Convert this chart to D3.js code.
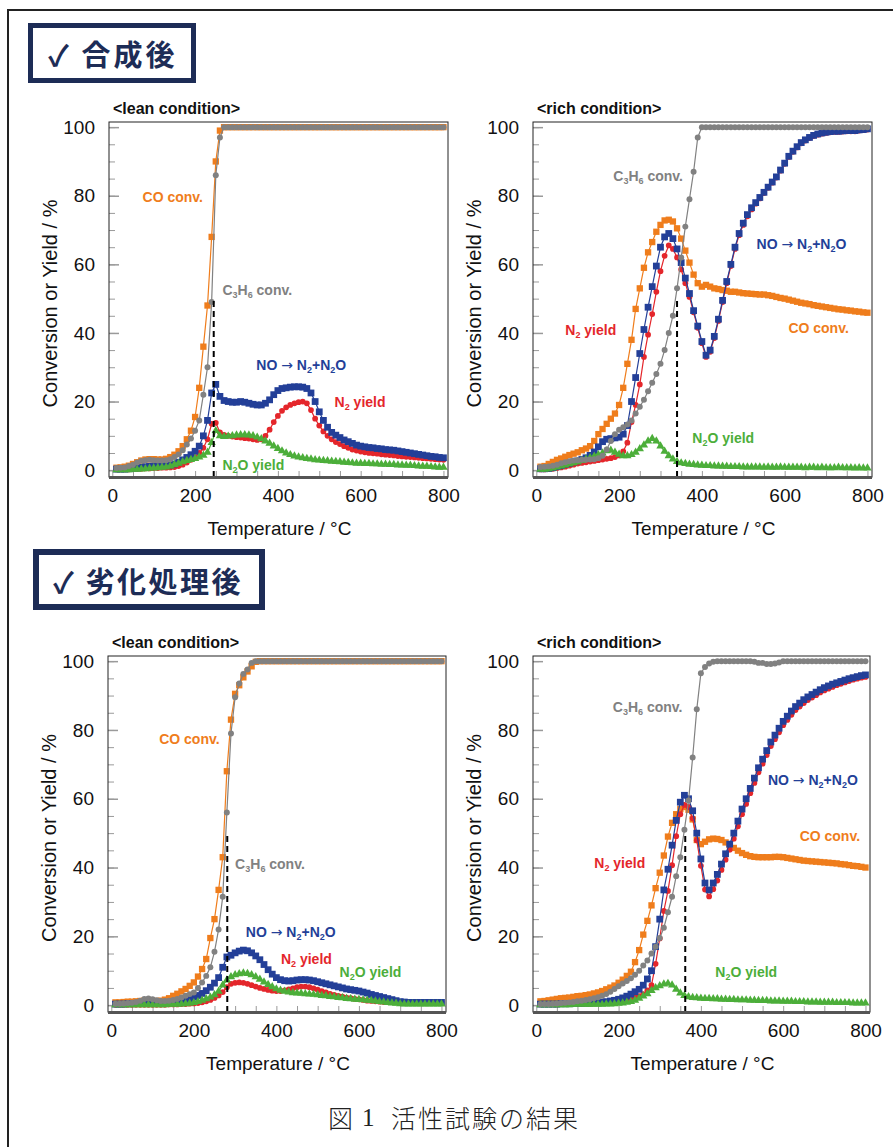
<!DOCTYPE html>
<html lang="ja">
<head>
<meta charset="UTF-8" />
<title>活性試験の結果</title>
<script src="https://d3js.org/d3.v7.min.js"></script>
<style>
  body { margin: 0; background: #fff; }
  svg { display: block; font-family: "Liberation Sans", Arial, sans-serif; }
</style>
</head>
<body>
<svg id="fig" width="893" height="1147"></svg>
<script>
// temperature of every sample (°C)
const temps = [
  10, 20, 30, 40, 50, 60, 70, 80, 90, 100,
  110, 120, 130, 140, 150, 160, 170, 180, 190, 200,
  210, 220, 230, 240, 250, 260, 270, 280, 290, 300,
  310, 320, 330, 340, 350, 360, 370, 380, 390, 400,
  410, 420, 430, 440, 450, 460, 470, 480, 490, 500,
  510, 520, 530, 540, 550, 560, 570, 580, 590, 600,
  610, 620, 630, 640, 650, 660, 670, 680, 690, 700,
  710, 720, 730, 740, 750, 760, 770, 780, 790, 800
];

const xTicks = [0, 200, 400, 600, 800];
const xMinorTicks = [0, 50, 100, 150, 200, 250, 300, 350, 400, 450, 500, 550, 600, 650, 700, 750, 800];
const yTicks = [0, 20, 40, 60, 80, 100];
const yMinorTicks = [0, 5, 10, 15, 20, 25, 30, 35, 40, 45, 50, 55, 60, 65, 70, 75, 80, 85, 90, 95, 100];

// 合成後 / lean
const freshLeanCO = [
  0.7, 0.8, 1.0, 1.3, 1.8, 2.3, 2.8, 3.1, 3.2, 3.2,
  3.1, 3.1, 3.3, 3.8, 4.5, 5.5, 7.0, 9.0, 11.5, 15.5,
  24, 36, 48, 68, 90, 99, 100, 100, 100, 100,
  100, 100, 100, 100, 100, 100, 100, 100, 100, 100,
  100, 100, 100, 100, 100, 100, 100, 100, 100, 100,
  100, 100, 100, 100, 100, 100, 100, 100, 100, 100,
  100, 100, 100, 100, 100, 100, 100, 100, 100, 100,
  100, 100, 100, 100, 100, 100, 100, 100, 100, 100
];
const freshLeanC3H6 = [
  0.6, 0.7, 0.8, 1.2, 1.6, 2.2, 2.7, 2.9, 3.0, 2.9,
  2.8, 2.8, 2.9, 3.2, 3.8, 4.6, 5.8, 7.5, 9.2, 11.5,
  14.5, 22, 30, 49, 86, 97, 100, 100, 100, 100,
  100, 100, 100, 100, 100, 100, 100, 100, 100, 100,
  100, 100, 100, 100, 100, 100, 100, 100, 100, 100,
  100, 100, 100, 100, 100, 100, 100, 100, 100, 100,
  100, 100, 100, 100, 100, 100, 100, 100, 100, 100,
  100, 100, 100, 100, 100, 100, 100, 100, 100, 100
];
const freshLeanNO = [
  0.3, 0.3, 0.3, 0.4, 0.5, 0.6, 0.8, 1.0, 1.1, 1.2,
  1.2, 1.3, 1.4, 1.5, 1.8, 2.3, 3.0, 3.7, 4.5, 5.5,
  7.0, 10, 14.5, 22.5, 25, 21.5, 20.3, 20, 19.8, 19.8,
  20, 19.8, 19.5, 19.2, 19, 19, 19.5, 20.5, 22, 23.2,
  23.8, 24, 24.2, 24.3, 24.3, 24.2, 23.8, 22.5, 20, 17,
  14.5, 12.5, 11, 10.2, 9.5, 8.8, 8.3, 7.8, 7.3, 7.0,
  6.8, 6.6, 6.5, 6.3, 6.2, 6.0, 5.9, 5.8, 5.6, 5.4,
  5.2, 5.0, 4.8, 4.6, 4.4, 4.2, 4.0, 3.9, 3.7, 3.6
];
const freshLeanN2 = [
  0.2, 0.2, 0.2, 0.2, 0.3, 0.3, 0.4, 0.5, 0.5, 0.6,
  0.6, 0.7, 0.7, 0.8, 0.9, 1.2, 1.6, 2.2, 3.0, 3.8,
  5.0, 6.5, 9.0, 13.5, 13.8, 11, 10.3, 10, 9.8, 9.6,
  9.5, 9.3, 9.2, 9.0, 8.8, 9.0, 10, 11.8, 14, 15.8,
  17.3, 18.3, 19, 19.5, 19.8, 20, 19.5, 17.5, 15, 13,
  11.3, 10, 9, 8.2, 7.6, 7.0, 6.5, 6.0, 5.7, 5.4,
  5.2, 5.0, 4.9, 4.8, 4.6, 4.5, 4.4, 4.3, 4.1, 4.0,
  3.9, 3.8, 3.7, 3.6, 3.5, 3.4, 3.3, 3.2, 3.1, 3.0
];
const freshLeanN2O = [
  0.1, 0.1, 0.1, 0.1, 0.2, 0.2, 0.3, 0.4, 0.5, 0.6,
  0.7, 0.8, 0.9, 1.2, 1.6, 2.0, 2.4, 2.8, 3.1, 3.4,
  3.8, 4.3, 5.2, 8.0, 11.5, 10, 9.8, 9.9, 10, 10.2,
  10.3, 10.3, 10.2, 10, 9.6, 9.1, 8.5, 7.8, 7.0, 6.3,
  5.6, 5.0, 4.5, 4.1, 3.8, 3.6, 3.4, 3.2, 3.0, 2.9,
  2.8, 2.7, 2.6, 2.5, 2.4, 2.3, 2.2, 2.1, 2.0, 2.0,
  1.9, 1.9, 1.8, 1.8, 1.7, 1.7, 1.6, 1.6, 1.5, 1.5,
  1.4, 1.4, 1.3, 1.2, 1.1, 1.1, 1.0, 0.9, 0.8, 0.8
];

// 合成後 / rich
const freshRichCO = [
  1.0, 1.2, 1.8, 2.4, 3.0, 3.4, 3.9, 4.4, 4.8, 5.2,
  5.8, 6.3, 7.0, 8.5, 10.5, 12, 13.5, 15, 16.5, 19,
  24, 31, 38, 47, 53, 59, 63.5, 66.5, 69.5, 71.5,
  72.8, 73, 72.5, 70.5, 67.5, 64, 60.5, 57, 54.5, 53.5,
  54, 53.5, 53, 52.8, 52.5, 52.3, 52, 52, 51.8, 51.6,
  51.5, 51.4, 51.3, 51.2, 51.2, 51, 50.8, 50.5, 50.2, 50,
  49.7, 49.4, 49.1, 48.8, 48.6, 48.4, 48.1, 47.9, 47.7, 47.5,
  47.3, 47.1, 46.9, 46.8, 46.6, 46.5, 46.3, 46.2, 46.0, 45.9
];
const freshRichC3H6 = [
  0.9, 1.0, 1.1, 1.3, 1.6, 2.0, 2.3, 2.6, 2.8, 2.9,
  3.0, 3.0, 3.1, 3.2, 3.5, 4.2, 6.0, 8.5, 10.5, 11.8,
  12.5, 13.3, 14.5, 16.5, 18.5, 20.5, 23, 25.5, 28, 31,
  35, 40, 45, 53, 62, 71, 79, 87, 97, 100,
  100, 100, 100, 100, 100, 100, 100, 100, 100, 100,
  100, 100, 100, 100, 100, 100, 100, 100, 100, 100,
  100, 100, 100, 100, 100, 100, 100, 100, 100, 100,
  100, 100, 100, 100, 100, 100, 100, 100, 100, 100
];
const freshRichNO = [
  0.4, 0.4, 0.5, 0.7, 1.0, 1.3, 1.7, 2.0, 2.4, 2.7,
  3.1, 3.6, 4.3, 5.3, 6.8, 8.3, 9.0, 9.2, 9.4, 9.6,
  10.5, 13, 20, 27, 34, 41, 47.5, 53.5, 59.5, 65,
  68, 69, 67.5, 64.5, 60.5, 56, 51.5, 46.5, 42, 37.5,
  33.5, 35, 39, 44, 49.5, 55, 60, 65, 69, 72,
  74.5, 76.5, 78, 79.5, 81, 82.5, 84, 85.5, 87.5, 89.5,
  91.5, 93, 94.3, 95.5, 96.3, 97, 97.6, 98, 98.3, 98.5,
  98.7, 98.8, 98.8, 98.9, 99, 99, 99, 99.2, 99.3, 99.5
];
const freshRichN2 = [
  0.2, 0.2, 0.3, 0.4, 0.6, 0.8, 1.0, 1.3, 1.6, 1.9,
  2.1, 2.3, 2.5, 2.7, 2.9, 3.1, 3.3, 3.5, 3.8, 4.3,
  5.5, 8, 14, 19, 25, 33, 39.5, 45.5, 52, 58,
  62.5, 65.5, 64.5, 62, 58.5, 54.5, 50.5, 46, 41.5, 37,
  33, 34.5, 38.5, 43.5, 49, 54.5, 59.5, 64.5, 68.5, 71.5,
  74, 76, 77.7, 79.2, 80.8, 82.3, 83.8, 85.3, 87.3, 89.3,
  91.3, 92.8, 94.1, 95.3, 96.1, 96.8, 97.4, 97.8, 98.1, 98.3,
  98.5, 98.6, 98.6, 98.7, 98.8, 98.8, 98.8, 99.0, 99.1, 99.3
];
const freshRichN2O = [
  0.2, 0.2, 0.4, 0.6, 0.9, 1.2, 1.5, 1.8, 2.1, 2.4,
  2.8, 3.2, 3.6, 4.0, 4.5, 5.0, 5.6, 5.8, 5.2, 4.6,
  4.2, 4.2, 4.5, 5.2, 6.2, 7.3, 8.5, 9.2, 8.5, 7.0,
  5.5, 4.2, 3.2, 2.5, 2.1, 1.9, 1.7, 1.6, 1.5, 1.4,
  1.3, 1.3, 1.2, 1.2, 1.1, 1.1, 1.0, 1.0, 1.0, 0.9,
  0.9, 0.9, 0.9, 0.9, 0.8, 0.9, 0.8, 0.8, 0.9, 0.8,
  0.8, 0.8, 0.8, 0.8, 0.7, 0.8, 0.8, 0.7, 0.8, 0.7,
  0.7, 0.7, 0.8, 0.7, 0.7, 0.7, 0.6, 0.7, 0.6, 0.6
];

// 劣化処理後 / lean
const agedLeanCO = [
  0.8, 0.8, 0.9, 1.0, 1.0, 1.1, 1.2, 1.3, 1.3, 1.2,
  1.2, 1.3, 1.6, 2.0, 2.7, 3.3, 4.0, 4.7, 5.6, 6.6,
  8.3, 10.5, 13.4, 19.5, 25, 33.5, 43, 68, 83, 90.5,
  93, 95.3, 97, 98.5, 99.8, 100, 100, 100, 100, 100,
  100, 100, 100, 100, 100, 100, 100, 100, 100, 100,
  100, 100, 100, 100, 100, 100, 100, 100, 100, 100,
  100, 100, 100, 100, 100, 100, 100, 100, 100, 100,
  100, 100, 100, 100, 100, 100, 100, 100, 100, 100
];
const agedLeanC3H6 = [
  0.4, 0.4, 0.5, 0.6, 0.7, 0.9, 1.3, 1.8, 1.9, 1.7,
  1.4, 1.2, 1.2, 1.3, 1.5, 1.8, 2.2, 2.7, 3.2, 3.7,
  5.0, 6.6, 8.5, 11, 15.5, 22, 31.5, 56, 79, 89.5,
  93.5, 96.3, 97.6, 99.5, 100, 100, 100, 100, 100, 100,
  100, 100, 100, 100, 100, 100, 100, 100, 100, 100,
  100, 100, 100, 100, 100, 100, 100, 100, 100, 100,
  100, 100, 100, 100, 100, 100, 100, 100, 100, 100,
  100, 100, 100, 100, 100, 100, 100, 100, 100, 100
];
const agedLeanNO = [
  0.3, 0.3, 0.3, 0.4, 0.4, 0.5, 0.5, 0.6, 0.6, 0.6,
  0.6, 0.7, 0.7, 0.8, 0.9, 1.0, 1.2, 1.5, 1.9, 2.3,
  2.8, 3.4, 4.2, 5.2, 6.4, 8.0, 11, 14, 14.5, 15.2,
  15.7, 16, 15.8, 15.2, 14.3, 13.2, 11.8, 10.3, 9.0, 8.0,
  7.4, 7.1, 7.0, 7.1, 7.3, 7.4, 7.4, 7.3, 7.1, 6.8,
  6.5, 6.2, 5.9, 5.6, 5.3, 5.0, 4.7, 4.5, 4.3, 4.1,
  3.8, 3.5, 3.1, 2.8, 2.5, 2.2, 1.9, 1.6, 1.3, 1.0,
  0.9, 0.8, 0.8, 0.8, 0.8, 0.8, 0.8, 0.8, 0.8, 0.8
];
const agedLeanN2 = [
  0.1, 0.1, 0.1, 0.1, 0.1, 0.1, 0.1, 0.1, 0.1, 0.1,
  0.1, 0.1, 0.1, 0.2, 0.2, 0.2, 0.3, 0.3, 0.4, 0.5,
  0.6, 0.8, 1.1, 1.5, 2.1, 2.8, 3.8, 5.2, 6.2, 6.5,
  6.6, 6.5, 6.2, 5.8, 5.4, 5.0, 4.7, 4.4, 4.2, 4.1,
  4.1, 4.3, 4.6, 4.9, 5.2, 5.4, 5.4, 5.2, 4.9, 4.5,
  4.1, 3.7, 3.3, 3.0, 2.7, 2.5, 2.2, 2.0, 1.8, 1.7,
  1.5, 1.3, 1.2, 1.1, 1.0, 0.9, 0.9, 0.9, 0.9, 0.9,
  0.9, 0.9, 0.9, 0.9, 0.9, 0.9, 0.9, 0.9, 0.9, 0.9
];
const agedLeanN2O = [
  0.1, 0.1, 0.1, 0.1, 0.1, 0.1, 0.1, 0.1, 0.1, 0.1,
  0.1, 0.1, 0.1, 0.2, 0.2, 0.2, 0.3, 0.4, 0.5, 0.7,
  1.0, 1.4, 1.8, 2.3, 3.0, 4.0, 5.8, 7.3, 8.2, 8.8,
  9.1, 9.3, 9.2, 8.8, 8.2, 7.5, 6.7, 6.0, 5.3, 4.7,
  4.3, 4.0, 3.8, 3.6, 3.5, 3.4, 3.3, 3.2, 3.1, 3.0,
  2.8, 2.7, 2.5, 2.4, 2.2, 2.1, 1.9, 1.8, 1.7, 1.6,
  1.5, 1.4, 1.3, 1.2, 1.0, 0.9, 0.7, 0.6, 0.5, 0.4,
  0.3, 0.3, 0.3, 0.3, 0.3, 0.3, 0.3, 0.3, 0.3, 0.3
];

// 劣化処理後 / rich
const agedRichCO = [
  1.1, 1.2, 1.4, 1.6, 1.8, 2.0, 2.1, 2.2, 2.4, 2.6,
  2.7, 2.9, 3.1, 3.4, 3.7, 4.1, 4.6, 5.1, 5.7, 6.5,
  7.4, 8.5, 9.7, 12.5, 16, 20.5, 24.5, 29, 34, 38.5,
  43.5, 49, 53, 55.5, 57, 57.6, 56.8, 54, 48, 46.8,
  47.5, 48.2, 48.4, 48.3, 48, 47.3, 46.5, 45.7, 44.9, 44.2,
  43.7, 43.3, 43.1, 43, 43, 43, 43, 43.1, 43.1, 43,
  42.8, 42.6, 42.4, 42.2, 42, 41.9, 41.8, 41.7, 41.6, 41.5,
  41.4, 41.3, 41.2, 41, 40.9, 40.7, 40.5, 40.4, 40.2, 40
];
const agedRichC3H6 = [
  0.3, 0.3, 0.3, 0.4, 0.5, 0.6, 0.7, 0.8, 0.9, 1.1,
  1.3, 1.5, 1.7, 2.0, 2.3, 2.7, 3.2, 3.9, 4.7, 5.5,
  6.3, 7.0, 7.8, 8.8, 10, 11.5, 13, 15, 17, 19.5,
  22.5, 27, 31.5, 37.5, 43, 51, 59.5, 72, 86, 96.5,
  98.3, 99.3, 99.8, 100, 100, 100, 100, 100, 100, 100,
  100, 100, 99.8, 99.5, 99.5, 99.2, 99.2, 99.3, 99.6, 100,
  100, 100, 100, 100, 100, 100, 100, 100, 100, 100,
  100, 100, 100, 100, 100, 100, 100, 100, 100, 100
];
const agedRichNO = [
  0.3, 0.3, 0.3, 0.3, 0.3, 0.4, 0.4, 0.4, 0.5, 0.5,
  0.5, 0.6, 0.6, 0.7, 0.8, 0.9, 1.0, 1.2, 1.4, 1.7,
  2.1, 2.6, 3.2, 3.9, 4.6, 5.8, 7.6, 10, 17, 25,
  33.5, 39.5, 46.5, 53.7, 59, 61, 60, 56.5, 50, 42.5,
  35.5, 33.5, 35.5, 38, 41, 44, 46.8, 50, 53.5, 57,
  60, 63, 66, 69, 71.5, 74, 76.5, 78.5, 80.5, 82.5,
  84, 85.5, 86.8, 87.8, 88.8, 89.6, 90.3, 91, 91.7, 92.3,
  92.8, 93.3, 93.7, 94.1, 94.5, 94.9, 95.2, 95.5, 95.8, 96
];
const agedRichN2 = [
  0.2, 0.2, 0.2, 0.2, 0.2, 0.3, 0.3, 0.3, 0.3, 0.3,
  0.3, 0.4, 0.4, 0.5, 0.6, 0.7, 0.7, 0.9, 1.0, 1.2,
  1.5, 1.8, 2.2, 2.5, 2.6, 3.2, 4.3, 5.8, 12, 19.4,
  27.4, 33.2, 40.7, 49.1, 55.5, 58.2, 57.6, 54.3, 47.9, 40.5,
  33.6, 31.6, 33.7, 36.2, 39.3, 42.3, 45.2, 48.4, 52, 55.5,
  58.5, 61.6, 64.6, 67.7, 70.2, 72.7, 75.3, 77.3, 79.3, 81.4,
  82.9, 84.4, 85.8, 86.8, 87.8, 88.7, 89.4, 90.1, 90.9, 91.5,
  92, 92.5, 93, 93.4, 93.8, 94.2, 94.6, 94.9, 95.2, 95.4
];
const agedRichN2O = [
  0.1, 0.1, 0.1, 0.1, 0.1, 0.1, 0.1, 0.1, 0.2, 0.2,
  0.2, 0.2, 0.2, 0.2, 0.2, 0.2, 0.3, 0.3, 0.4, 0.5,
  0.6, 0.8, 1.0, 1.4, 2.0, 2.6, 3.3, 4.2, 5.0, 5.6,
  6.1, 6.3, 5.8, 4.6, 3.5, 2.8, 2.4, 2.2, 2.1, 2.0,
  1.9, 1.9, 1.8, 1.8, 1.7, 1.7, 1.6, 1.6, 1.5, 1.5,
  1.5, 1.4, 1.4, 1.3, 1.3, 1.3, 1.2, 1.2, 1.2, 1.1,
  1.1, 1.1, 1.0, 1.0, 1.0, 0.9, 0.9, 0.9, 0.8, 0.8,
  0.8, 0.8, 0.7, 0.7, 0.7, 0.7, 0.6, 0.6, 0.6, 0.6
];

const navy = "#1d2c56";

// drawing order: CO, N2, NO, N2O, C3H6
const seriesStyle = [
  { key: "co", color: "#ef7d1c", shape: d3.symbolSquare, size: 40 },
  { key: "n2", color: "#e4262b", shape: d3.symbolCircle, size: 26 },
  { key: "no", color: "#233f98", shape: d3.symbolSquare, size: 46 },
  { key: "n2o", color: "#4cae3a", shape: d3.symbolTriangle, size: 30 },
  { key: "c3h6", color: "#818181", shape: d3.symbolCircle, size: 28 }
];
const colorOf = Object.fromEntries(seriesStyle.map((s) => [s.key, s.color]));

// label text, second element marks a subscript, third a font override
const labelText = {
  co: [["CO conv."]],
  c3h6: [["C"], ["3", true], ["H"], ["6", true], [" conv."]],
  no: [["NO "], ["\u2192", false, "DejaVu Sans"], [" N"], ["2", true], ["+N"], ["2", true], ["O"]],
  n2: [["N"], ["2", true], [" yield"]],
  n2o: [["N"], ["2", true], ["O yield"]]
};

const panels = [
  {
    title: "<lean condition>", left: 109, top: 122, width: 339, height: 355, t50: 245,
    data: { co: freshLeanCO, c3h6: freshLeanC3H6, no: freshLeanNO, n2: freshLeanN2, n2o: freshLeanN2O },
    labels: [
      { key: "co", t: 73, v: 79.7 },
      { key: "c3h6", t: 266, v: 52.5 },
      { key: "no", t: 348, v: 30.6 },
      { key: "n2", t: 537, v: 19.8 },
      { key: "n2o", t: 266, v: 1.5 }
    ]
  },
  {
    title: "<rich condition>", left: 533, top: 122, width: 339, height: 355, t50: 340,
    data: { co: freshRichCO, c3h6: freshRichC3H6, no: freshRichNO, n2: freshRichN2, n2o: freshRichN2O },
    labels: [
      { key: "c3h6", t: 186, v: 85.8 },
      { key: "no", t: 532, v: 66 },
      { key: "co", t: 609, v: 41.4 },
      { key: "n2", t: 70, v: 41 },
      { key: "n2o", t: 377, v: 9.4 }
    ]
  },
  {
    title: "<lean condition>", left: 108, top: 656, width: 338, height: 356, t50: 281,
    data: { co: agedLeanCO, c3h6: agedLeanC3H6, no: agedLeanNO, n2: agedLeanN2, n2o: agedLeanN2O },
    labels: [
      { key: "co", t: 116, v: 77.5 },
      { key: "c3h6", t: 300, v: 41 },
      { key: "no", t: 326, v: 21.3 },
      { key: "n2", t: 411, v: 13.4 },
      { key: "n2o", t: 553, v: 9.6 }
    ]
  },
  {
    title: "<rich condition>", left: 533, top: 656, width: 337, height: 356, t50: 362,
    data: { co: agedRichCO, c3h6: agedRichC3H6, no: agedRichNO, n2: agedRichN2, n2o: agedRichN2O },
    labels: [
      { key: "c3h6", t: 186, v: 86.6 },
      { key: "no", t: 563, v: 65.6 },
      { key: "co", t: 640, v: 49.3 },
      { key: "n2", t: 141, v: 41.4 },
      { key: "n2o", t: 435, v: 9.6 }
    ]
  }
];

const svg = d3.select("#fig");
svg.append("rect").attr("width", 893).attr("height", 1147).attr("fill", "#fff");

// outer frame (left and top edges are visible)
svg.append("path")
  .attr("d", "M8,1147V10H893")
  .attr("fill", "none")
  .attr("stroke", "#222")
  .attr("stroke-width", 2);

// section headers
function header(x, y, w, h, sw, text, tx, ty, size, spacing) {
  svg.append("rect")
    .attr("x", x).attr("y", y).attr("width", w).attr("height", h)
    .attr("fill", "#fff").attr("stroke", navy).attr("stroke-width", sw);
  svg.append("text")
    .attr("x", tx).attr("y", ty)
    .attr("dominant-baseline", "central")
    .attr("font-family", "'Noto Sans CJK JP', 'DejaVu Sans', sans-serif")
    .attr("font-weight", "bold")
    .attr("font-size", size)
    .attr("letter-spacing", spacing)
    .attr("fill", navy)
    .text(text);
}
header(30.5, 25.5, 163, 55, 5, "\u2713 合成後", 48, 53, 29, 3);
header(36, 552, 226, 55, 6, "\u2713 劣化処理後", 53, 580, 29, 2.5);

function drawPanel(p) {
  const g = svg.append("g");
  const x = d3.scaleLinear().domain([-8, 811]).range([p.left, p.left + p.width]);
  const y = d3.scaleLinear().domain([-2, 101.5]).range([p.top + p.height, p.top]);
  const bottom = p.top + p.height;

  g.append("rect")
    .attr("x", p.left).attr("y", p.top)
    .attr("width", p.width).attr("height", p.height)
    .attr("fill", "#fff");

  // inner minor / major ticks
  g.append("g")
    .attr("transform", `translate(${p.left},0)`)
    .call(d3.axisRight(y).tickValues(yMinorTicks).tickSize(6).tickFormat(""))
    .call((a) => a.select(".domain").remove())
    .selectAll("line").attr("stroke", "#9a9a9a");
  g.append("g")
    .attr("transform", `translate(${p.left},0)`)
    .call(d3.axisRight(y).tickValues(yTicks).tickSize(10).tickFormat(""))
    .call((a) => a.select(".domain").remove())
    .selectAll("line").attr("stroke", "#9a9a9a").attr("stroke-width", 1.5);
  g.append("g")
    .attr("transform", `translate(0,${bottom})`)
    .call(d3.axisTop(x).tickValues(xMinorTicks).tickSize(6).tickFormat(""))
    .call((a) => a.select(".domain").remove())
    .selectAll("line").attr("stroke", "#9a9a9a");

  // tick labels
  g.append("g")
    .attr("transform", `translate(${p.left},0)`)
    .call(d3.axisLeft(y).tickValues(yTicks).tickSize(0).tickPadding(14))
    .call((a) => a.select(".domain").remove())
    .selectAll("text")
    .attr("font-family", "'Liberation Sans', Arial, sans-serif")
    .attr("font-size", 19)
    .attr("fill", "#111");
  g.append("g")
    .attr("transform", `translate(0,${bottom})`)
    .call(d3.axisBottom(x).tickValues(xTicks).tickSize(0).tickPadding(12))
    .call((a) => a.select(".domain").remove())
    .selectAll("text")
    .attr("font-family", "'Liberation Sans', Arial, sans-serif")
    .attr("font-size", 19)
    .attr("fill", "#111");

  // series
  seriesStyle.forEach((s) => {
    const vals = p.data[s.key];
    const pts = temps.map((t, i) => [t, vals[i]]);
    g.append("path")
      .datum(pts)
      .attr("fill", "none")
      .attr("stroke", s.color)
      .attr("stroke-width", 1.2)
      .attr("d", d3.line().x((d) => x(d[0])).y((d) => y(d[1])));
    const sym = d3.symbol().type(s.shape).size(s.size);
    g.append("g")
      .selectAll("path")
      .data(pts)
      .join("path")
      .attr("transform", (d) => `translate(${x(d[0])},${y(d[1])})`)
      .attr("d", sym)
      .attr("fill", s.color);
  });

  // T50 marker line
  g.append("line")
    .attr("x1", x(p.t50)).attr("x2", x(p.t50))
    .attr("y1", bottom).attr("y2", y(50))
    .attr("stroke", "#000")
    .attr("stroke-width", 2)
    .attr("stroke-dasharray", "6,4");

  // frame
  g.append("rect")
    .attr("x", p.left).attr("y", p.top)
    .attr("width", p.width).attr("height", p.height)
    .attr("fill", "none")
    .attr("stroke", "#222")
    .attr("stroke-width", 1);
  g.append("line")
    .attr("x1", p.left).attr("x2", p.left + p.width)
    .attr("y1", bottom + 0.5).attr("y2", bottom + 0.5)
    .attr("stroke", "#555")
    .attr("stroke-width", 3);

  // series labels
  p.labels.forEach((l) => {
    const t = g.append("text")
      .attr("x", x(l.t)).attr("y", y(l.v))
      .attr("dy", "0.36em")
      .attr("font-size", 14)
      .attr("font-weight", "bold")
      .attr("fill", colorOf[l.key]);
    let shifted = false;
    labelText[l.key].forEach(([str, sub, font]) => {
      const span = t.append("tspan").text(str);
      if (font) span.attr("font-family", font).attr("font-weight", "normal");
      if (sub) {
        span.attr("font-size", 9).attr("dy", 3);
        shifted = true;
      } else if (shifted) {
        span.attr("dy", -3);
        shifted = false;
      }
    });
  });

  // titles
  g.append("text")
    .attr("x", p.left + 4).attr("y", p.top - 14)
    .attr("dy", "0.35em")
    .attr("font-size", 16)
    .attr("font-weight", "bold")
    .attr("fill", "#111")
    .text(p.title);

  g.append("text")
    .attr("transform", `translate(${p.left - 59},${p.top + p.height / 2 + 4}) rotate(-90)`)
    .attr("text-anchor", "middle")
    .attr("dy", "0.35em")
    .attr("font-size", 20)
    .attr("fill", "#111")
    .text("Conversion or Yield / %");

  g.append("text")
    .attr("x", p.left + p.width / 2 + 1).attr("y", bottom + 58)
    .attr("text-anchor", "middle")
    .attr("font-size", 19)
    .attr("fill", "#111")
    .text("Temperature / \u00b0C");
}

panels.forEach(drawPanel);

// caption
const cap = svg.append("text")
  .attr("y", 1117)
  .attr("dominant-baseline", "central")
  .attr("font-family", "'Noto Sans CJK JP', sans-serif")
  .attr("font-weight", 300)
  .attr("font-size", 25)
  .attr("fill", "#222");
cap.append("tspan").attr("x", 328).text("図");
cap.append("tspan").attr("x", 362).attr("font-family", "'Liberation Serif', serif").text("1");
cap.append("tspan").attr("x", 391).attr("letter-spacing", 2).text("活性試験の結果");
</script>
</body>
</html>
